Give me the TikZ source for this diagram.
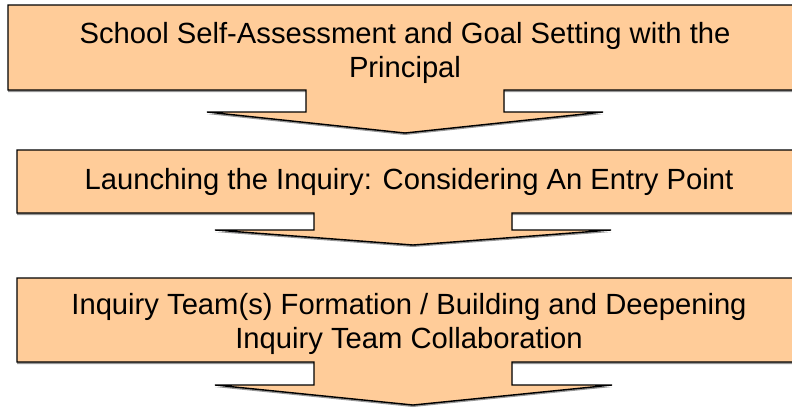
\documentclass[tikz,border=0pt]{standalone}
\usepackage{fontspec}
\setmainfont{Liberation Sans}
\definecolor{stagefill}{RGB}{255,204,153}
\definecolor{stageshade}{RGB}{150,150,150}

\begin{document}
\begin{tikzpicture}[x=1pt, y=-1pt,
  stage/.style={draw=black, line width=1.4pt, fill=stagefill, line join=miter},
  shade/.style={fill=stageshade, draw=none},
  stagetext/.style={font=\fontsize{29.2}{34}\selectfont, align=center, text=black, inner sep=0pt}]
  \useasboundingbox (0,0) rectangle (792,408);

  % STAGE 1: self-assessment box with arrow
  \fill[shade, shift={(0,2)}] (8,5) -- (802,5) -- (802,90) -- (504,90) -- (504,112) -- (603,112)
    -- (405,133) -- (207,112) -- (306,112) -- (306,90) -- (8,90) -- cycle;
  \draw[stage] (8,5) -- (802,5) -- (802,90) -- (504,90) -- (504,112) -- (603,112)
    -- (405,133) -- (207,112) -- (306,112) -- (306,90) -- (8,90) -- cycle;
  \node[stagetext] (s1) at (405,53) {School Self-Assessment and Goal Setting with the\\Principal};

  % STAGE 2: launching the inquiry
  \fill[shade, shift={(0,2)}] (17,150) -- (809,150) -- (809,213) -- (512,213) -- (512,230) -- (611,230)
    -- (413,245) -- (215,230) -- (314,230) -- (314,213) -- (17,213) -- cycle;
  \draw[stage] (17,150) -- (809,150) -- (809,213) -- (512,213) -- (512,230) -- (611,230)
    -- (413,245) -- (215,230) -- (314,230) -- (314,213) -- (17,213) -- cycle;
  \node[stagetext] (s2) at (409,182) {Launching the Inquiry: Considering An Entry Point};

  % STAGE 3: team formation
  \fill[shade, shift={(0,2)}] (17,278) -- (809,278) -- (809,362) -- (512,362) -- (512,385) -- (612,385)
    -- (413,405) -- (215,385) -- (314,385) -- (314,362) -- (17,362) -- cycle;
  \draw[stage] (17,278) -- (809,278) -- (809,362) -- (512,362) -- (512,385) -- (612,385)
    -- (413,405) -- (215,385) -- (314,385) -- (314,362) -- (17,362) -- cycle;
  \node[stagetext] (s3) at (409,324) {Inquiry Team(s) Formation / Building and Deepening\\Inquiry Team Collaboration};
\end{tikzpicture}
\end{document}
